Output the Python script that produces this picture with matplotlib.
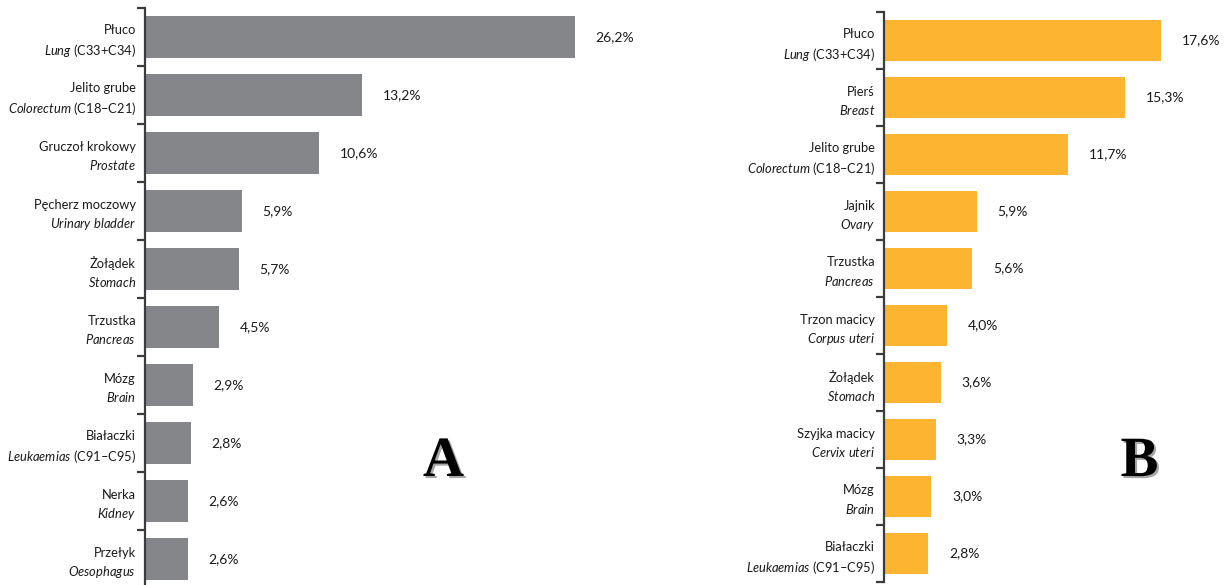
import matplotlib
matplotlib.use("Agg")
import matplotlib.pyplot as plt
import matplotlib.patheffects as pe
import numpy as np

plt.rcParams['font.family'] = ['Lato', 'DejaVu Sans']
plt.rcParams['mathtext.fontset'] = 'custom'
plt.rcParams['mathtext.rm'] = 'Lato'
plt.rcParams['mathtext.it'] = 'Lato:italic'

# Panel A - men
men_pl = ["Płuco", "Jelito grube", "Gruczoł krokowy", "Pęcherz moczowy", "Żołądek",
          "Trzustka", "Mózg", "Białaczki", "Nerka", "Przełyk"]
men_en = ["Lung", "Colorectum", "Prostate", "Urinary bladder", "Stomach",
          "Pancreas", "Brain", "Leukaemias", "Kidney", "Oesophagus"]
men_code = ["(C33+C34)", "(C18–C21)", "", "", "", "", "", "(C91–C95)", "", ""]
men_val = [26.2, 13.2, 10.6, 5.9, 5.7, 4.5, 2.9, 2.8, 2.6, 2.6]

# Panel B - women
women_pl = ["Płuco", "Pierś", "Jelito grube", "Jajnik", "Trzustka",
            "Trzon macicy", "Żołądek", "Szyjka macicy", "Mózg", "Białaczki"]
women_en = ["Lung", "Breast", "Colorectum", "Ovary", "Pancreas",
            "Corpus uteri", "Stomach", "Cervix uteri", "Brain", "Leukaemias"]
women_code = ["(C33+C34)", "", "(C18–C21)", "", "", "", "", "", "", "(C91–C95)"]
women_val = [17.6, 15.3, 11.7, 5.9, 5.6, 4.0, 3.6, 3.3, 3.0, 2.8]

W, H = 1225, 585
fig = plt.figure(figsize=(W / 100, H / 100), dpi=100)


def px_axes(left, top, width, height):
    return fig.add_axes([left / W, 1 - (top + height) / H, width / W, height / H])


def make_label(pl, en, code):
    it = en.replace(" ", r"\ ")
    second = rf"$\mathit{{{it}}}$"
    if code:
        second += " " + code
    return pl + "\n" + second


def panel(ax, pl, en, codes, vals, color, xmax):
    n = len(vals)
    pos = np.arange(n)
    ax.barh(pos, vals, height=0.71, color=color)
    ax.set_ylim(n - 0.5, -0.5)
    ax.set_xlim(0, xmax)
    ax.set_xticks([])
    # boundary ticks between categories, labels on the category centres
    ax.set_yticks(np.arange(n + 1) - 0.5)
    ax.set_yticklabels([])
    ax.set_yticks(pos, minor=True)
    ax.set_yticklabels([make_label(a, b, c) for a, b, c in zip(pl, en, codes)],
                       minor=True)
    ax.tick_params(axis="y", which="major", length=6, width=1.6,
                   color="#3c3c3c", direction="out")
    ax.tick_params(axis="y", which="minor", length=0, pad=6.5,
                   labelsize=9.3, labelcolor="#1a1a1a")
    for lab in ax.get_yticklabels(minor=True):
        lab.set_linespacing(1.45)
    for s in ("top", "right", "bottom"):
        ax.spines[s].set_visible(False)
    ax.spines["left"].set_color("#3c3c3c")
    ax.spines["left"].set_linewidth(1.6)
    for i, v in enumerate(vals):
        ax.annotate(f"{v:.1f}".replace(".", ",") + "%", xy=(v, i),
                    xytext=(15, 0), textcoords="offset points",
                    ha="left", va="center", fontsize=10, color="#1a1a1a")
    ax.patch.set_visible(False)


axA = px_axes(145, 8, 505, 580)
panel(axA, men_pl, men_en, men_code, men_val, "#858689", 505 / 16.41)

axB = px_axes(884, 12, 320, 570)
panel(axB, women_pl, women_en, women_code, women_val, "#FDB430", 320 / 15.74)

shadow = [pe.SimplePatchShadow(offset=(1.5, -1.5), alpha=0.35), pe.Normal()]
for letter, xc in (("A", 443.5), ("B", 1139.5)):
    fig.text(xc / W, 1 - 476 / H, letter, fontsize=41, family="Liberation Serif",
             weight="bold", ha="center", va="baseline", color="black",
             path_effects=shadow)

fig.savefig("out.png", dpi=100)
